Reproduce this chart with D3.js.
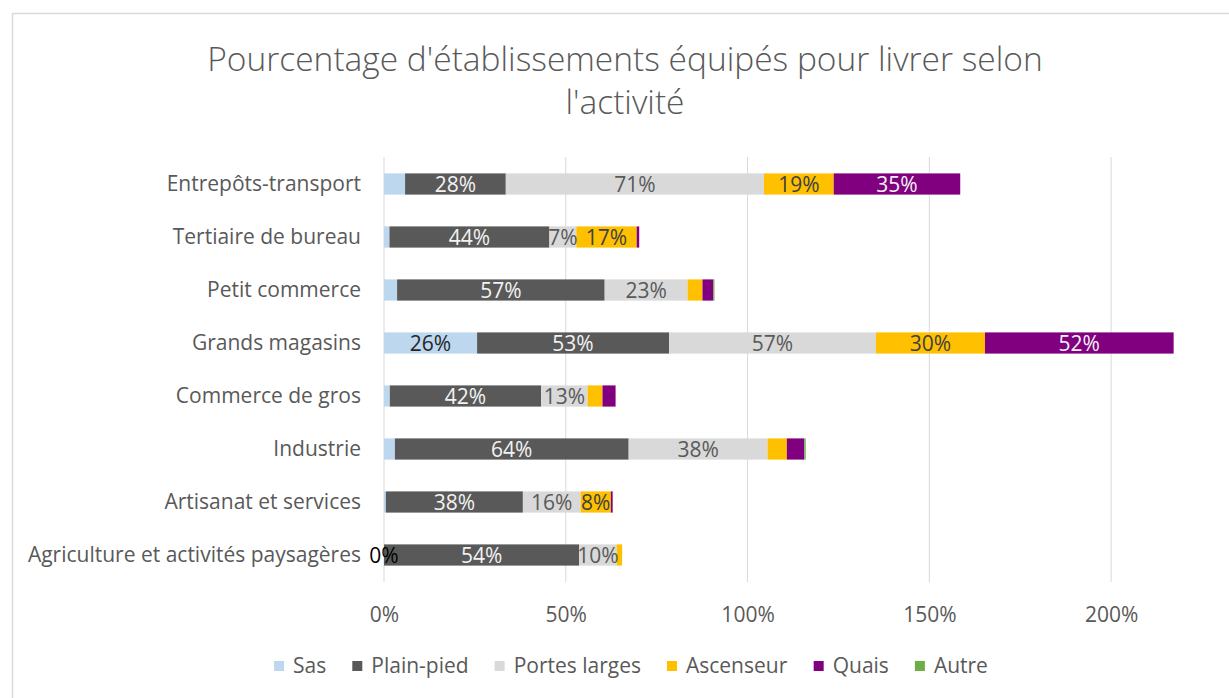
<!DOCTYPE html>
<html>
<head>
<meta charset="utf-8">
<script src="https://cdn.jsdelivr.net/npm/d3@7"></script>
<style>
  html, body { margin: 0; padding: 0; background: #ffffff; }
  svg { display: block; }
  text { font-family: "Open Sans", sans-serif; }
</style>
</head>
<body>
<svg id="chart" width="1229" height="698"></svg>
<script>
const titleLines = ["Pourcentage d'établissements équipés pour livrer selon", "l'activité"];
const categories = ["Entrepôts-transport", "Tertiaire de bureau", "Petit commerce", "Grands magasins",
  "Commerce de gros", "Industrie", "Artisanat et services", "Agriculture et activités paysagères"];
const seriesNames = ["Sas", "Plain-pied", "Portes larges", "Ascenseur", "Quais", "Autre"];
const sas          = [5.8, 1.5, 3.6, 25.6, 1.6, 3.0, 0.5, 0];
const plainPied    = [27.7, 44.0, 57.1, 52.8, 41.6, 64.3, 37.7, 53.7];
const portesLarges = [71.0, 7.4, 22.8, 56.9, 12.8, 38.2, 15.9, 10.3];
const ascenseur    = [19.2, 16.6, 4.1, 30.0, 4.1, 5.3, 8.3, 1.5];
const quais        = [34.8, 0.7, 3.0, 51.9, 3.6, 4.8, 0.5, null];
const autre        = [null, null, 0.3, null, null, 0.4, null, null];
const tickValues = [0, 50, 100, 150, 200];
const seriesColors = ["#BDD7EE", "#595959", "#D9D9D9", "#FFC000", "#800080", "#70AD47"];
const labelColors  = ["#262626", "#F2F2F2", "#595959", "#404040", "#F2F2F2", "#404040"];

const seriesValues = [sas, plainPied, portesLarges, ascenseur, quais, autre];

const svg = d3.select("#chart");

// chart frame
svg.append("rect").attr("x", 12.5).attr("y", 13.5).attr("width", 1240).attr("height", 700)
  .attr("fill", "#fff").attr("stroke", "#D9D9D9").attr("stroke-width", 1.5);

// title
svg.append("g").selectAll("text").data(titleLines).join("text")
  .attr("x", 625).attr("y", (d, i) => 71 + i * 43)
  .attr("text-anchor", "middle").attr("font-size", 33.5).attr("font-weight", 300).attr("fill", "#595959")
  .text(d => d);

const x = d3.scaleLinear().domain([0, 225]).range([384, 1202]);
const y = d3.scaleBand().domain(categories).range([157.5, 581.5]).paddingInner(0.6).paddingOuter(0.3);

// gridlines
svg.append("g").selectAll("line").data(tickValues).join("line")
  .attr("x1", d => x(d)).attr("x2", d => x(d))
  .attr("y1", 157).attr("y2", 582)
  .attr("stroke", "#D9D9D9").attr("stroke-width", 1);

// x axis labels
const xAxis = d3.axisBottom(x).tickValues(tickValues).tickFormat(d => d + "%").tickSize(0).tickPadding(0);
const gx = svg.append("g").attr("transform", "translate(0,607)").call(xAxis);
gx.select(".domain").remove();
gx.selectAll("text").attr("font-size", 21).attr("fill", "#595959")
  .attr("font-family", "'Open Sans', sans-serif");

// y axis labels
const yAxis = d3.axisLeft(y).tickSize(0).tickPadding(0);
const gy = svg.append("g").attr("transform", "translate(361,0)").call(yAxis);
gy.select(".domain").remove();
gy.selectAll("text").attr("font-size", 21).attr("fill", "#595959")
  .attr("font-family", "'Open Sans', sans-serif");

// stacked data
const rows = categories.map((c, i) => {
  const r = { cat: c };
  seriesNames.forEach((s, j) => { r[s] = seriesValues[j][i] == null ? 0 : seriesValues[j][i]; });
  return r;
});
const stack = d3.stack().keys(seriesNames)(rows);

const segs = [];
stack.forEach((layer, j) => {
  layer.forEach((d, i) => {
    const raw = seriesValues[j][i];
    if (raw == null) return;
    segs.push({ s: j, cat: categories[i], x0: d[0], x1: d[1], v: raw });
  });
});

svg.append("g").selectAll("rect").data(segs.filter(d => d.v > 0)).join("rect")
  .attr("x", d => x(d.x0)).attr("width", d => x(d.x1) - x(d.x0))
  .attr("y", d => y(d.cat)).attr("height", y.bandwidth())
  .attr("fill", d => seriesColors[d.s]);

svg.append("g").selectAll("text").data(segs.filter(d => d.v === 0 || d.v >= 6.5)).join("text")
  .attr("x", d => (x(d.x0) + x(d.x1)) / 2)
  .attr("y", d => y(d.cat) + y.bandwidth() / 2)
  .attr("dy", "0.36em").attr("text-anchor", "middle")
  .attr("font-size", 21)
  .attr("fill", d => d.v === 0 ? "#000000" : labelColors[d.s])
  .text(d => Math.round(d.v) + "%");

// legend
const legend = svg.append("g").attr("transform", "translate(0,666)");
const items = legend.selectAll("g").data(seriesNames).join("g");
items.append("rect").attr("width", 10).attr("height", 10).attr("y", -5)
  .attr("fill", (d, i) => seriesColors[i]);
items.append("text").attr("x", 19).attr("dy", "0.35em").attr("font-size", 21).attr("fill", "#595959").text(d => d);
let cx = 0;
const widths = [];
items.each(function () { widths.push(this.getBBox().width); });
const gap = 26;
const total = d3.sum(widths) + gap * (widths.length - 1);
cx = 631 - total / 2;
items.attr("transform", (d, i) => { const t = cx; cx += widths[i] + gap; return `translate(${t},0)`; });
</script>
</body>
</html>
